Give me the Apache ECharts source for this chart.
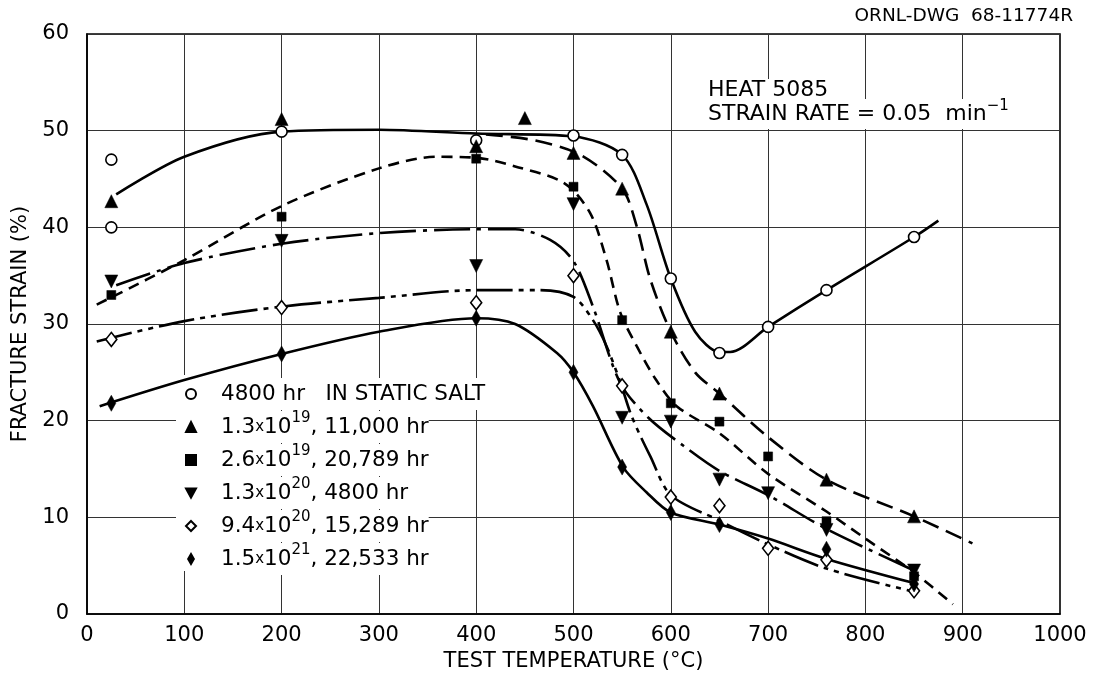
<!DOCTYPE html>
<html>
<head>
<meta charset="utf-8">
<script src="https://cdn.jsdelivr.net/npm/echarts@6/dist/echarts.min.js"></script>
<style>
html,body{margin:0;padding:0;background:#fff;}
#chart{width:1093px;height:677px;}
</style>
</head>
<body>
<div id="chart"></div>
<script>
// ---- axis ticks ----
const xTicks = [0,100,200,300,400,500,600,700,800,900,1000];
const yTicks = [0,10,20,30,40,50,60];

// ---- series names (legend) ----
const seriesNames = [
  '4800 hr   IN STATIC SALT',
  '1.3x10^19, 11,000 hr',
  '2.6x10^19, 20,789 hr',
  '1.3x10^20, 4800 hr',
  '9.4x10^20, 15,289 hr',
  '1.5x10^21, 22,533 hr'
];

// ---- measured points [temperature °C, fracture strain %] ----
const staticSaltPts = [[25,47.0],[25,40.0],[200,49.9],[400,49.0],[500,49.5],[550,47.5],[600,34.7],[650,27.0],[700,29.7],[760,33.5],[850,39.0]];
const f13e19Pts = [[25,42.7],[200,51.2],[400,48.4],[450,51.3],[500,47.7],[550,44.0],[600,29.2],[650,22.8],[760,13.9],[850,10.1]];
const f26e19Pts = [[25,33.0],[200,41.1],[400,47.1],[500,44.2],[550,30.4],[600,21.8],[650,19.9],[700,16.3],[760,9.6],[850,3.9]];
const f13e20Pts = [[25,34.4],[200,38.6],[400,36.0],[500,42.4],[550,20.3],[600,19.9],[650,13.9],[700,12.5],[760,8.7],[850,4.5]];
const f94e20Pts = [[25,28.4],[200,31.7],[400,32.2],[500,35.0],[550,23.6],[600,12.1],[650,11.2],[700,6.8],[760,5.6],[850,2.4]];
const f15e21Pts = [[25,21.8],[200,26.9],[400,30.6],[500,25.0],[550,15.2],[600,10.5],[650,9.25],[760,6.7],[850,3.1]];

// ---- hand-faired curves ----
const staticSaltCurve = [[30,43.4],[100,47.3],[200,49.9],[300,50.1],[400,49.7],[500,49.4],[550,47.5],[575,42.4],[600,34.7],[625,29.2],[650,27.1],[661,27.1],[700,29.7],[760,33.5],[850,39.0],[875,40.7]];
const f13e19Curve = [[410,49.6],[460,49.0],[507,47.5],[550,44.0],[565,40.1],[579,34.6],[600,29.2],[625,25.0],[650,22.8],[700,18.3],[760,13.9],[850,10.1],[910,7.3]];
const f26e19Curve = [[10,32.0],[100,36.6],[200,42.2],[300,46.1],[360,47.3],[400,47.2],[440,46.3],[490,44.6],[517,41.5],[534,36.6],[548,31.2],[565,27.7],[585,24.2],[606,21.5],[650,18.7],[700,14.5],[760,10.6],[800,7.8],[850,4.3],[890,1.0]];
const f13e20Curve = [[30,34.0],[100,36.3],[200,38.3],[300,39.4],[400,39.8],[440,39.8],[476,38.7],[500,36.5],[520,31.8],[548,23.9],[577,20.3],[613,17.4],[650,14.8],[700,12.3],[760,8.8],[850,4.5]];
const f94e20Curve = [[10,28.2],[100,30.3],[200,31.8],[300,32.7],[400,33.5],[465,33.5],[500,32.8],[520,30.4],[534,27.7],[548,24.0],[560,20.4],[579,16.3],[600,12.3],[647,9.8],[700,7.2],[760,4.7],[850,2.3]];
const f15e21Curve = [[13,21.5],[100,24.2],[200,26.9],[300,29.2],[400,30.6],[440,30.0],[483,27.0],[500,25.0],[520,21.5],[551,15.2],[575,12.6],[600,10.5],[650,9.25],[700,7.8],[760,5.7],[850,3.2]];

const FONT = 'DejaVu Sans';
const chart = echarts.init(document.getElementById('chart'), null, {renderer:'canvas'});

function curve(data, type, width) {
  return {
    type: 'line', data: data, showSymbol: false, symbol: 'none',
    smooth: 0.3, silent: true, z: 2,
    lineStyle: {color: '#000', width: width || 2.6, type: type}
  };
}
function pts(name, data, symbol, size, open, rotate) {
  return {
    type: 'scatter', name: name, data: data, symbol: symbol, symbolSize: size,
    symbolRotate: rotate || 0, z: 5,
    itemStyle: open ? {color: '#fff', borderColor: '#000', borderWidth: 1.6, opacity: 1}
                    : {color: '#000', borderColor: '#000', borderWidth: 0.5, opacity: 1}
  };
}

const option = {
  backgroundColor: '#fff',
  animation: false,
  textStyle: {fontFamily: FONT, color: '#000'},
  grid: {left: 87, right: 33, top: 34, bottom: 62.5, show: true, borderColor: '#000', borderWidth: 1.6},
  xAxis: {
    type: 'value', min: xTicks[0], max: xTicks[xTicks.length-1], interval: 100,
    name: 'TEST TEMPERATURE (°C)', nameLocation: 'middle', nameGap: 37,
    nameTextStyle: {fontSize: 21, color: '#000', fontFamily: FONT},
    axisLine: {show: true, lineStyle: {color: '#000', width: 1.6}},
    axisTick: {show: false},
    axisLabel: {fontSize: 21, color: '#000', fontFamily: FONT, margin: 11, formatter: function (v) { return String(v); }},
    splitLine: {show: true, lineStyle: {color: '#333', width: 1}}
  },
  yAxis: {
    type: 'value', min: yTicks[0], max: yTicks[yTicks.length-1], interval: 10,
    name: 'FRACTURE STRAIN (%)', nameLocation: 'middle', nameGap: 48, nameRotate: 90,
    nameTextStyle: {fontSize: 21, color: '#000', fontFamily: FONT},
    axisLine: {show: true, lineStyle: {color: '#000', width: 1.6}},
    axisTick: {show: false},
    axisLabel: {fontSize: 21, color: '#000', fontFamily: FONT, margin: 18},
    splitLine: {show: true, lineStyle: {color: '#333', width: 1}}
  },
  legend: {
    data: [
      {name: seriesNames[0]},
      {name: seriesNames[1]},
      {name: seriesNames[2]},
      {name: seriesNames[3], icon: 'path://M0,0 L12,0 L6,11 Z'},
      {name: seriesNames[4]},
      {name: seriesNames[5], icon: 'path://M4,0 L8,7 L4,14 L0,7 Z'}
    ],
    orient: 'vertical', left: 180, top: 373,
    itemWidth: 10, itemHeight: 10, itemGap: 1,
    selectedMode: false, z: 4,
    formatter: function (n) { return n.replace(/x10\^(\d+)/, '{x|x}10{sup|$1}'); },
    textStyle: {
      fontSize: 21.5, fontFamily: FONT, color: '#000', lineHeight: 32,
      padding: [0, 0, 0, 20], backgroundColor: '#fff',
      rich: {
        x: {fontSize: 15, fontFamily: FONT, color: '#000', lineHeight: 32, verticalAlign: 'middle'},
        sup: {fontSize: 15, fontFamily: FONT, color: '#000', lineHeight: 16, verticalAlign: 'top'}
      }
    }
  },
  graphic: [
    {type: 'rect', z: 1, shape: {x: 176, y: 375, width: 30, height: 196}, style: {fill: '#fff'}, silent: true},
    {type: 'text', right: 20, top: 7, style: {text: 'ORNL-DWG  68-11774R', font: '18.5px "DejaVu Sans"', fill: '#000'}},
    {type: 'text', left: 708, top: 79, z: 3, style: {text: 'HEAT 5085', font: '22px "DejaVu Sans"', fill: '#000', backgroundColor: '#fff'}},
    {type: 'text', left: 708, top: 99, z: 3, style: {
      text: 'STRAIN RATE = 0.05  min{s|−1}', font: '22px "DejaVu Sans"', fill: '#000', backgroundColor: '#fff',
      lineHeight: 30,
      rich: {s: {font: '15px "DejaVu Sans"', fill: '#000', lineHeight: 15, verticalAlign: 'top'}}
    }}
  ],
  series: [
    curve(staticSaltCurve, 'solid'),
    curve(f13e19Curve, [17, 8]),
    curve(f26e19Curve, [11, 7]),
    curve(f13e20Curve, [36, 7, 4, 7]),
    curve(f94e20Curve, [36, 6, 5, 6, 5, 6]),
    curve(f15e21Curve, 'solid'),
    pts(seriesNames[0], staticSaltPts, 'circle', 11, true),
    pts(seriesNames[1], f13e19Pts, 'triangle', 13, false),
    pts(seriesNames[2], f26e19Pts, 'rect', 9, false),
    pts(seriesNames[3], f13e20Pts, 'triangle', 13, false, 180),
    pts(seriesNames[4], f94e20Pts, 'diamond', [11, 14], true),
    pts(seriesNames[5], f15e21Pts, 'diamond', [9, 16], false)
  ]
};
chart.setOption(option);
</script>
</body>
</html>
